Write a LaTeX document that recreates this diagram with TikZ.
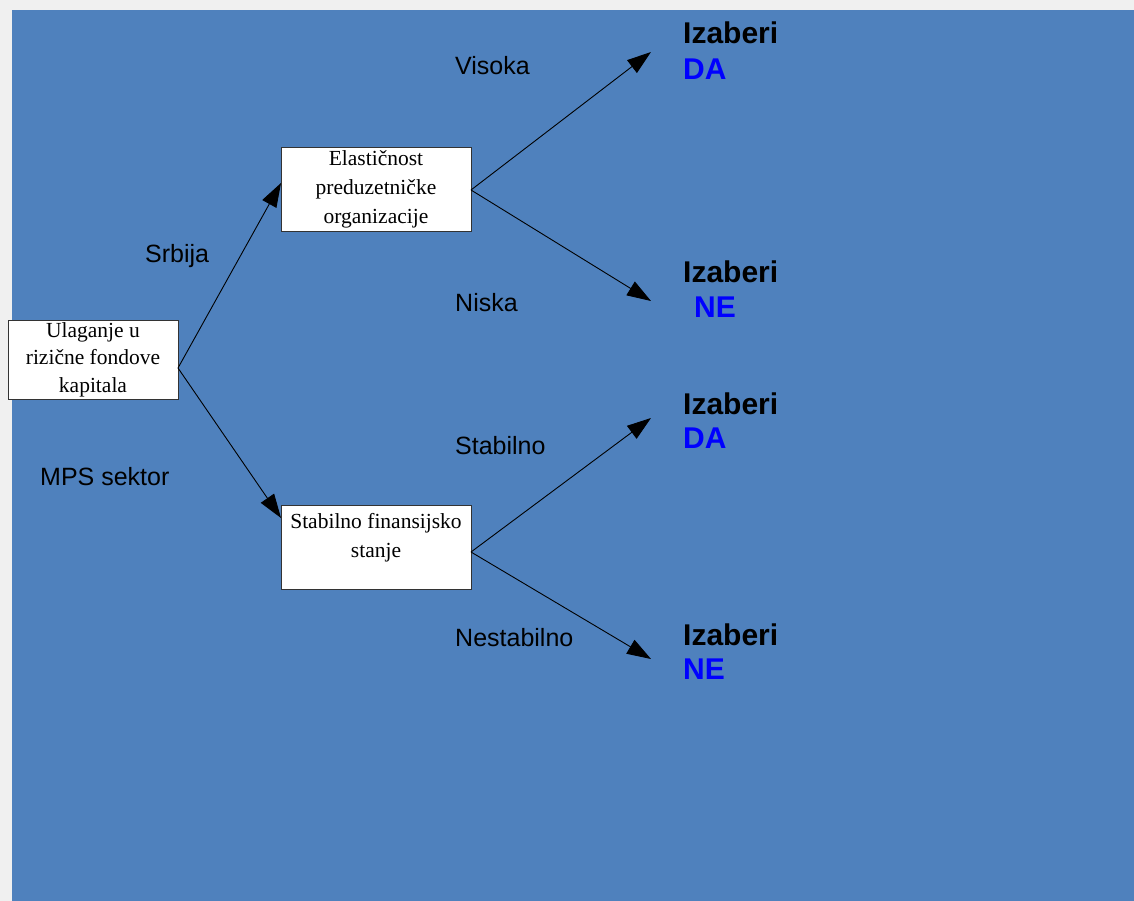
\documentclass[tikz,border=0pt]{standalone}
\usepackage{fontspec}
\setmainfont{Liberation Serif}
\setsansfont{Liberation Sans}
\usetikzlibrary{arrows.meta}
\definecolor{bgblue}{HTML}{4F81BD}
\definecolor{framegray}{HTML}{F0F0F0}
\begin{document}
\begin{tikzpicture}[x=1pt,y=-1pt,
  box/.style={draw=black!80, fill=white, line width=0.8pt, inner sep=0pt, align=center,
    minimum width=190pt, minimum height=84pt, font=\fontsize{21.5}{29}\selectfont},
  lbl/.style={anchor=base west, inner sep=0pt, font=\sffamily\fontsize{25}{30}\selectfont},
  choice/.style={anchor=base west, inner sep=0pt, font=\sffamily\bfseries\fontsize{30}{34}\selectfont},
  ans/.style={choice, text=blue},
  arr/.style={line width=0.9pt, -{Triangle[length=24pt,width=16pt]}}]
% background
\fill[framegray] (0,0) rectangle (1134,901);
\fill[bgblue] (12,10) rectangle (1134,901);
\useasboundingbox (0,0) rectangle (1134,901);
% boxes
\node[box, minimum width=170pt, minimum height=79pt, font=\fontsize{21.5}{27.5}\selectfont] (b1) at (93,359.5)
  {Ulaganje u\\rizične fondove\\kapitala};
\node[box] (b2) at (376,189) {Elastičnost\\preduzetničke\\organizacije};
\node[box] (b3) at (376,547) {};
\node[anchor=north, inner sep=0pt, align=center, font=\fontsize{21.5}{29}\selectfont] (b3t) at (376,513.3)
  {Stabilno finansijsko\\stanje};
% connector points
\coordinate (o1) at (178,368);
\coordinate (i2) at (281,183);
\coordinate (i3) at (281,518);
\coordinate (o2) at (471,190);
\coordinate (o3) at (471,552);
\coordinate (t1) at (651,52);
\coordinate (t2) at (651,301);
\coordinate (t3) at (651,418);
\coordinate (t4) at (651,659);
% connectors
\draw[arr] (o1) -- (i2);
\draw[arr] (o1) -- (i3);
\draw[arr] (o2) -- (t1);
\draw[arr] (o2) -- (t2);
\draw[arr] (o3) -- (t3);
\draw[arr] (o3) -- (t4);
% branch labels
\node[lbl] (lv) at (455,75) {Visoka};
\node[lbl] (ln) at (455,311) {Niska};
\node[lbl] (ls) at (145,262) {Srbija};
\node[lbl] (lm) at (40,485) {MPS sektor};
\node[lbl] (lst) at (455,454) {Stabilno};
\node[lbl] (lne) at (455,646) {Nestabilno};
% outcomes
\node[choice] (c1) at (683,44) {Izaberi};
\node[ans] (a1) at (683,80) {DA};
\node[choice] (c2) at (683,282) {Izaberi};
\node[ans] (a2) at (694,317) {NE};
\node[choice] (c3) at (683,414) {Izaberi};
\node[ans] (a3) at (683,448) {DA};
\node[choice] (c4) at (683,645) {Izaberi};
\node[ans] (a4) at (683,679) {NE};
\end{tikzpicture}
\end{document}
